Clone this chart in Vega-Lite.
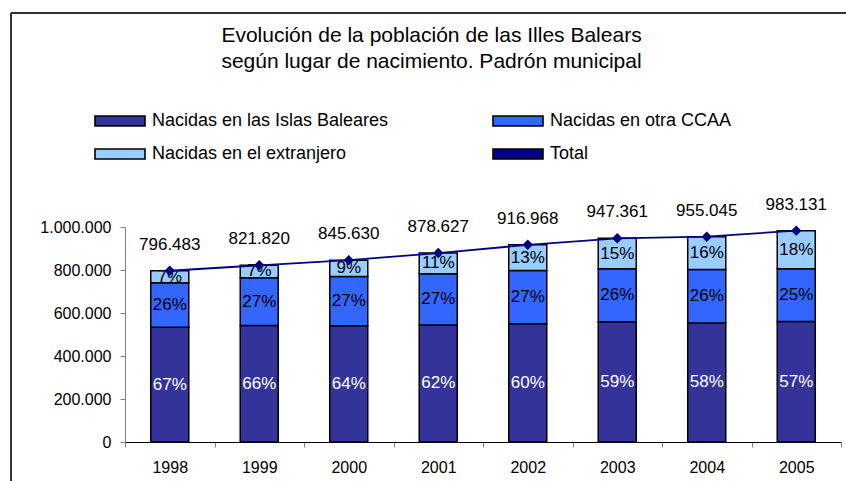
{
  "$schema": "https://vega.github.io/schema/vega-lite/v6.json",
  "width": 835,
  "height": 468,
  "autosize": "none",
  "padding": {"left": 11, "top": 13, "right": 0, "bottom": 0},
  "background": "white",
  "config": {
    "font": "Liberation Sans",
    "locale": {"number": {"decimal": ",", "thousands": ".", "grouping": [3], "currency": ["", " €"]}},
    "view": {"stroke": "#333333", "strokeWidth": 2, "strokeDash": [835, 1303, 468, 0]},
    "axis": {"grid": false, "labelFont": "Liberation Sans", "labelFontSize": 16, "labelColor": "black", "domainColor": "#808080", "tickColor": "#808080", "tickSize": 5, "title": null}
  },
  "title": {
    "text": ["Evolución de la población de las Illes Balears", "según lugar de nacimiento. Padrón municipal"],
    "font": "Liberation Sans",
    "fontSize": 21,
    "fontWeight": "normal",
    "color": "black",
    "anchor": "middle",
    "frame": "group",
    "lineHeight": 26,
    "offset": -59,
    "dx": 3
  },
  "datasets": {
    "seg": [
      {"year": "1998", "grupo": "Nacidas en las Islas Baleares", "k": 1, "valor": 533644, "pct": "67%"},
      {"year": "1998", "grupo": "Nacidas en otra CCAA", "k": 2, "valor": 207086, "pct": "26%"},
      {"year": "1998", "grupo": "Nacidas en el extranjero", "k": 3, "valor": 55753, "pct": "7%"},
      {"year": "1999", "grupo": "Nacidas en las Islas Baleares", "k": 1, "valor": 542401, "pct": "66%"},
      {"year": "1999", "grupo": "Nacidas en otra CCAA", "k": 2, "valor": 221891, "pct": "27%"},
      {"year": "1999", "grupo": "Nacidas en el extranjero", "k": 3, "valor": 57528, "pct": "7%"},
      {"year": "2000", "grupo": "Nacidas en las Islas Baleares", "k": 1, "valor": 541203, "pct": "64%"},
      {"year": "2000", "grupo": "Nacidas en otra CCAA", "k": 2, "valor": 228320, "pct": "27%"},
      {"year": "2000", "grupo": "Nacidas en el extranjero", "k": 3, "valor": 76107, "pct": "9%"},
      {"year": "2001", "grupo": "Nacidas en las Islas Baleares", "k": 1, "valor": 544749, "pct": "62%"},
      {"year": "2001", "grupo": "Nacidas en otra CCAA", "k": 2, "valor": 237229, "pct": "27%"},
      {"year": "2001", "grupo": "Nacidas en el extranjero", "k": 3, "valor": 96649, "pct": "11%"},
      {"year": "2002", "grupo": "Nacidas en las Islas Baleares", "k": 1, "valor": 550181, "pct": "60%"},
      {"year": "2002", "grupo": "Nacidas en otra CCAA", "k": 2, "valor": 247581, "pct": "27%"},
      {"year": "2002", "grupo": "Nacidas en el extranjero", "k": 3, "valor": 119206, "pct": "13%"},
      {"year": "2003", "grupo": "Nacidas en las Islas Baleares", "k": 1, "valor": 558943, "pct": "59%"},
      {"year": "2003", "grupo": "Nacidas en otra CCAA", "k": 2, "valor": 246314, "pct": "26%"},
      {"year": "2003", "grupo": "Nacidas en el extranjero", "k": 3, "valor": 142104, "pct": "15%"},
      {"year": "2004", "grupo": "Nacidas en las Islas Baleares", "k": 1, "valor": 553926, "pct": "58%"},
      {"year": "2004", "grupo": "Nacidas en otra CCAA", "k": 2, "valor": 248312, "pct": "26%"},
      {"year": "2004", "grupo": "Nacidas en el extranjero", "k": 3, "valor": 152807, "pct": "16%"},
      {"year": "2005", "grupo": "Nacidas en las Islas Baleares", "k": 1, "valor": 560385, "pct": "57%"},
      {"year": "2005", "grupo": "Nacidas en otra CCAA", "k": 2, "valor": 245783, "pct": "25%"},
      {"year": "2005", "grupo": "Nacidas en el extranjero", "k": 3, "valor": 176963, "pct": "18%"}
    ],
    "tot": [
      {"year": "1998", "total": 796483},
      {"year": "1999", "total": 821820},
      {"year": "2000", "total": 845630},
      {"year": "2001", "total": 878627},
      {"year": "2002", "total": 916968},
      {"year": "2003", "total": 947361},
      {"year": "2004", "total": 955045},
      {"year": "2005", "total": 983131}
    ]
  },
  "encoding": {
    "x": {
      "field": "year",
      "type": "nominal",
      "scale": {"type": "band", "range": [114, 830], "paddingInner": 0, "paddingOuter": 0},
      "axis": {"tickBand": "extent", "labelAngle": 0, "offset": -39, "labelPadding": 12, "domainColor": "black", "title": null}
    }
  },
  "layer": [
    {
      "data": {"name": "seg"},
      "transform": [
        {"stack": "valor", "groupby": ["year"], "sort": [{"field": "k", "order": "ascending"}], "as": ["v0", "v1"]}
      ],
      "mark": {"type": "bar", "width": {"band": 0.425}, "stroke": "black", "strokeWidth": 1.5},
      "encoding": {
        "y": {
          "field": "v0",
          "type": "quantitative",
          "scale": {"domain": [0, 1000000], "range": [429, 214], "nice": false},
          "axis": {"offset": -114, "values": [0, 200000, 400000, 600000, 800000, 1000000], "format": ",d", "labelPadding": 9, "title": null}
        },
        "y2": {"field": "v1"},
        "color": {
          "field": "grupo",
          "type": "nominal",
          "scale": {
            "domain": ["Nacidas en las Islas Baleares", "Nacidas en otra CCAA", "Nacidas en el extranjero", "Total"],
            "range": ["#333399", "#3366FF", "#99CCFF", "#000080"]
          },
          "legend": {
            "orient": "none",
            "legendX": 100,
            "legendY": 99,
            "columns": 2,
            "columnPadding": 100,
            "rowPadding": 15,
            "values": ["Nacidas en las Islas Baleares", "Nacidas en el extranjero", "Nacidas en otra CCAA", "Total"],
            "title": null,
            "labelFont": "Liberation Sans",
            "labelFontSize": 18,
            "labelColor": "black",
            "labelOffset": 23,
            "labelLimit": 400,
            "symbolSize": 100,
            "symbolStrokeWidth": 1.6,
            "symbolType": "M-5,-1H5V1H-5Z",
            "encode": {
              "symbols": {
                "shape": {"condition": {"test": "datum.value === 'Total'", "value": "M-5,0H5M0,-1.25L1.05,0L0,1.25L-1.05,0Z"}, "value": "M-5,-1H5V1H-5Z"},
                "fill": {
                  "condition": [
                    {"test": "datum.value === 'Total'", "value": "#000080"},
                    {"test": "datum.value === 'Nacidas en otra CCAA'", "value": "#3366FF"},
                    {"test": "datum.value === 'Nacidas en el extranjero'", "value": "#99CCFF"}
                  ],
                  "value": "#333399"
                },
                "stroke": {"condition": {"test": "datum.value === 'Total'", "value": "#000080"}, "value": "black"},
                "strokeWidth": {"condition": {"test": "datum.value === 'Total'", "value": 2}, "value": 1.6},
                "opacity": {"value": 1},
                "fillOpacity": {"value": 1}
              }
            }
          }
        }
      }
    },
    {
      "data": {"name": "seg"},
      "transform": [
        {"stack": "valor", "groupby": ["year"], "sort": [{"field": "k", "order": "ascending"}], "as": ["v0", "v1"]},
        {"calculate": "(datum.v0 + datum.v1) / 2", "as": "mid"}
      ],
      "mark": {"type": "text", "fontSize": 17, "font": "Liberation Sans", "baseline": "middle", "align": "center"},
      "encoding": {
        "y": {"field": "mid", "type": "quantitative"},
        "text": {"field": "pct", "type": "nominal"},
        "color": {"condition": {"test": "datum.k == 1", "value": "white"}, "value": "black"}
      }
    },
    {
      "data": {"name": "tot"},
      "mark": {"type": "line", "color": "#000080", "strokeWidth": 1.8, "point": {"shape": "diamond", "size": 110, "filled": true, "opacity": 1, "color": "#000080"}},
      "encoding": {
        "y": {"field": "total", "type": "quantitative"}
      }
    },
    {
      "data": {"name": "tot"},
      "mark": {"type": "text", "fontSize": 17, "font": "Liberation Sans", "baseline": "middle", "align": "center", "dy": -26, "color": "black"},
      "encoding": {
        "y": {"field": "total", "type": "quantitative"},
        "text": {"field": "total", "type": "quantitative", "format": ",d"}
      }
    }
  ]
}
